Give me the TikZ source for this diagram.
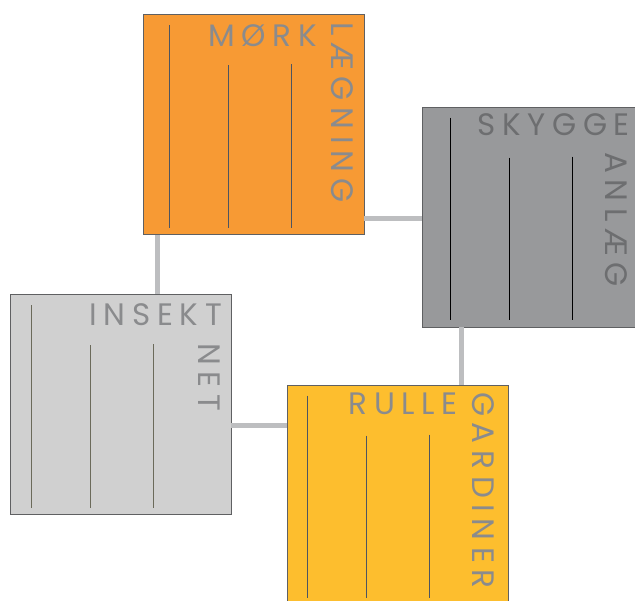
\documentclass[tikz,border=0pt]{standalone}
\usepackage{fontspec}
\usepackage{xcolor}
\setmainfont{Poppins}
\newfontfamily\labelfont{Poppins}[LetterSpace=21.5]
\usetikzlibrary{positioning}

\definecolor{morkorange}{HTML}{F79A34}
\definecolor{skyggegrey}{HTML}{98999B}
\definecolor{insektgrey}{HTML}{D0D0D0}
\definecolor{rulleyellow}{HTML}{FDBE2E}
\definecolor{edgegrey}{HTML}{5F6062}
\definecolor{linkgrey}{HTML}{BDBEC0}
\definecolor{textgrey}{HTML}{8A8B8D}
\definecolor{darktext}{HTML}{6D6E70}
\definecolor{ribblue}{HTML}{4D5561}
\definecolor{ribolive}{HTML}{6B6A5A}

\tikzset{
    box/.style={draw=edgegrey, line width=0.8pt, rectangle, inner sep=0pt,
        minimum width=221pt, minimum height=220pt},
    link/.style={draw=linkgrey, line width=5pt},
    rib/.style={line width=1pt},
    lbl/.style={inner sep=0pt, font=\labelfont\fontsize{31}{31}\selectfont, text=textgrey},
    vlbl/.style={lbl, rotate=-90, anchor=base west}
}

\begin{document}
\begin{tikzpicture}[x=1pt, y=-1pt]
    \fill[white] (0, 0) rectangle (635, 601);
    \useasboundingbox (0, 0) rectangle (635, 601);
    \node[box, fill=morkorange] (mork) at (253.5, 124.5) {};
    \node[box, fill=skyggegrey] (skygge) at (532.5, 217) {};
    \node[box, fill=insektgrey] (insekt) at (120.5, 404.5) {};
    \node[box, fill=rulleyellow] (rulle) at (397.5, 495) {};
    % connectors
    \draw[link]
    ([xshift=15pt]mork.south west) -- ([xshift=15pt]mork.south west |- insekt.north)
    ([yshift=16pt]mork.south east) -- ([yshift=16pt]mork.south east -| skygge.west)
    ([xshift=40pt]skygge.south west) -- ([xshift=40pt]skygge.south west |- rulle.north)
    ([yshift=89pt]insekt.south east) -- ([yshift=89pt]insekt.south east -| rulle.west);
    % ribs
    \foreach \b/\c/\s in {mork/ribblue/0, skygge/black/2, insekt/ribolive/-5, rulle/ribblue/-6}{
        \draw[rib, \c] ([xshift=27pt+\s pt, yshift=-11pt]\b.north west) -- ([xshift=27pt+\s pt, yshift=7pt]\b.south west);
        \draw[rib, \c] ([xshift=86pt+\s pt, yshift=-51pt]\b.north west) -- ([xshift=86pt+\s pt, yshift=7pt]\b.south west);
        \draw[rib, \c] ([xshift=149pt+\s pt, yshift=-50pt]\b.north west) -- ([xshift=149pt+\s pt, yshift=7pt]\b.south west);
    }
    % labels
    \node[lbl, anchor=base east] (morktop) at (317, 47) {MØRK};
    \node[vlbl] (morkside) at (331, 22) {LÆGNING};
    \node[lbl, anchor=base east, text=darktext] (skyggetop) at (630, 136) {SKYGGE};
    \node[vlbl, text=darktext] (skyggeside) at (605, 152) {ANLÆG};
    \node[lbl, anchor=base east] (insekttop) at (222, 326) {INSEKT};
    \node[vlbl] (insektside) at (198, 343) {NET};
    \node[lbl, anchor=base east] (rulletop) at (458, 415) {RULLE};
    \node[vlbl] (rulleside) at (472, 392) {GARDINER};
\end{tikzpicture}
\end{document}
